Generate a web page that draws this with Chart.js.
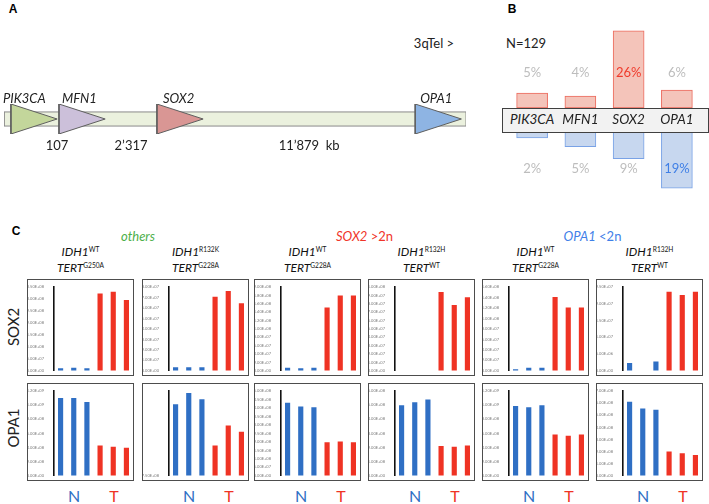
<!DOCTYPE html>
<html>
<head>
<meta charset="utf-8">
<script src="https://cdn.jsdelivr.net/npm/chart.js@4.4.1/dist/chart.umd.min.js"></script>
<style>
  body { margin: 0; background: #fff; font-family: Lato, "Open Sans", sans-serif; }
  #page { position: relative; width: 709px; height: 504px; overflow: hidden; }
  .t { position: absolute; white-space: nowrap; transform: translate(-50%, -50%); line-height: 1; }
  .box { position: absolute; border: 1px solid #4d4d4d; box-sizing: border-box; background: #fff; }
  sup { font-size: 0.55em; font-style: normal; vertical-align: 0.7em; }
</style>
</head>
<body>
<div id="page"></div>
<script>
// ---- panel A : schematic of 3q ----
const geneNames = ['PIK3CA', 'MFN1', 'SOX2', 'OPA1'];
const geneStart = [1.5, 11.9, 33.1, 89.0];     // schematic units, backbone 0..100
const geneLength = [10, 10, 10, 10];
const geneColors = ['#c3d69b', '#ccc0da', '#d99694', '#8eb4e3'];
const distanceLabels = ['107', '2\u2019317', '11\u2019879  kb'];

// ---- panel B : gains / losses, % of N=129 ----
const gainPct = [5, 4, 26, 6];
const lossPct = [2, 5, 9, 19];

// ---- panel C : qPCR per tumour ----
const sampleLabels = ['N1', 'N2', 'N3', 'T1', 'T2', 'T3'];
const groupTitles = ['others', 'SOX2 >2n', 'OPA1 <2n'];
const idh1Status = ['WT', 'R132K', 'WT', 'R132H', 'WT', 'R132H'];
const tertStatus = ['G250A', 'G228A', 'G228A', 'WT', 'G228A', 'WT'];

const sox2Values = [
  [8e6, 1.06e7, 8e6, 3.21e8, 3.29e8, 2.94e8],
  [3e6, 3e6, 3e6, 7.03e7, 7.58e7, 6.42e7],
  [6e6, 5e6, 6e6, 1.50e8, 1.79e8, 1.79e8],
  [null, null, null, 9.36e7, 7.81e7, 8.72e7],
  [2e6, 5e6, 5e6, 1.40e8, 1.20e8, 1.20e8],
  [2.2e6, null, 2.6e6, 2.35e7, 2.25e7, 2.35e7]
];
const sox2AxisMin = [0, 0, 0, 0, 0, 0];
const sox2AxisMax = [3.5e8, 8e7, 2e8, 1e8, 1.6e8, 2.5e7];
const sox2AxisStep = [5e7, 1e7, 2e7, 1e7, 2e7, 5e6];

const opa1Values = [
  [1.096e9, 1.096e9, 1.04e9, 4.24e8, 4.06e8, 3.92e8],
  [9.43e8, 9.74e8, 9.57e8, 8.31e8, 8.85e8, 8.68e8],
  [4.29e8, 4.06e8, 4.02e8, 1.95e8, 1.99e8, 1.95e8],
  [4.97e8, 5.17e8, 5.37e8, 2.08e8, 2.03e8, 2.12e8],
  [9.83e8, 9.65e8, 9.92e8, 5.77e8, 5.59e8, 5.77e8],
  [6.08e8, 5.53e8, 5.42e8, 1.97e8, 1.82e8, 1.68e8]
];
const opa1AxisMin = [0, 7.5e8, 0, 0, 0, 0];
const opa1AxisMax = [1.2e9, 9.8e8, 5e8, 6e8, 1.2e9, 7e8];
const opa1AxisStep = [2e8, 5e7, 5e7, 1e8, 2e8, 1e8];

const BLUE = '#2f6fc4';
const RED = '#ef3324';

Chart.defaults.font.family = 'Lato, "Open Sans", sans-serif';
Chart.defaults.animation = false;
Chart.defaults.plugins.legend.display = false;
Chart.defaults.plugins.tooltip.enabled = false;

const page = document.getElementById('page');

function text(html, x, y, style) {
  const d = document.createElement('div');
  d.className = 't';
  d.innerHTML = html;
  d.style.left = x + 'px';
  d.style.top = y + 'px';
  Object.assign(d.style, style || {});
  page.appendChild(d);
  return d;
}

function makeCanvas(parent, left, top, w, h) {
  const c = document.createElement('canvas');
  c.width = w; c.height = h;
  c.style.width = w + 'px'; c.style.height = h + 'px';
  c.style.position = 'absolute';
  c.style.left = left + 'px'; c.style.top = top + 'px';
  parent.appendChild(c);
  return c;
}

// Excel-like scientific labels: 3.50E+08
function sci(v) {
  if (v === 0) return '0.00E+00';
  const e = Math.floor(Math.log10(Math.abs(v)) + 1e-9);
  const m = v / Math.pow(10, e);
  return m.toFixed(2) + 'E' + (e < 0 ? '-' : '+') + String(Math.abs(e)).padStart(2, '0');
}

// ================= panel A =================
text('A', 13, 9, { fontWeight: 'bold', fontSize: '12px', fontFamily: 'Arial, sans-serif' });
text('3qTel &gt;', 434, 43, { fontSize: '13px', color: '#222' });

const aDatasets = geneNames.map((g, i) => ({
  data: [
    { x: geneStart[i], y: -1 },
    { x: geneStart[i] + geneLength[i], y: 0 },
    { x: geneStart[i], y: 1 },
    { x: geneStart[i], y: -1 }
  ],
  backgroundColor: geneColors[i],
  borderColor: '#5f5f5f',
  borderWidth: 1,
  fill: 'shape',
  pointRadius: 0,
  tension: 0
}));
aDatasets.push({
  data: [{ x: 0, y: -0.47 }, { x: 100, y: -0.47 }, { x: 100, y: 0.47 }, { x: 0, y: 0.47 }, { x: 0, y: -0.47 }],
  backgroundColor: '#ebf1de',
  borderColor: '#8a8a8a',
  borderWidth: 1,
  fill: 'shape',
  pointRadius: 0,
  tension: 0
});

const aChart = new Chart(makeCanvas(page, 0, 100, 470, 40), {
  type: 'line',
  data: { datasets: aDatasets },
  options: {
    responsive: false,
    layout: { padding: { left: 4, right: 4, top: 4, bottom: 6 } },
    scales: {
      x: { type: 'linear', min: 0, max: 100, display: false },
      y: { type: 'linear', min: -1, max: 1, display: false }
    }
  }
});

// labels of panel A placed through the chart's scale
{
  const xs = aChart.scales.x;
  const labelX = geneStart.map(s => xs.getPixelForValue(s));
  const nameOffsets = [-8, 3, 6, 5];
  geneNames.forEach((g, i) => {
    text('<i>' + g + '</i>', labelX[i] + nameOffsets[i], 98, { fontSize: '13px', color: '#222', transform: 'translate(0,-50%)' });
  });
  // distances sit between consecutive genes
  const mids = [xs.getPixelForValue(geneStart[1]) - 2,
                (xs.getPixelForValue(geneStart[1] + geneLength[1]) + xs.getPixelForValue(geneStart[2])) / 2,
                (xs.getPixelForValue(geneStart[2] + geneLength[2]) + xs.getPixelForValue(geneStart[3])) / 2];
  distanceLabels.forEach((t, i) => text(t.replace(/ /g, '&nbsp;'), mids[i], 145, { fontSize: '13px', color: '#222' }));
}

// ================= panel B =================
text('B', 512, 9, { fontWeight: 'bold', fontSize: '12px', fontFamily: 'Arial, sans-serif' });
text('N=129', 526, 43, { fontSize: '13px', color: '#222' });

const bUp = new Chart(makeCanvas(page, 502, 10, 206, 98), {
  type: 'bar',
  data: {
    labels: geneNames,
    datasets: [{
      data: gainPct,
      backgroundColor: '#f4c4ba',
      borderColor: '#ec6a5c',
      borderWidth: 1,
      borderSkipped: false,
      barThickness: 31
    }]
  },
  options: {
    responsive: false,
    layout: { padding: { left: 6, right: 7, top: 9, bottom: 0 } },
    scales: { x: { display: false }, y: { display: false, min: 0, max: 30 } }
  }
});

new Chart(makeCanvas(page, 502, 132, 206, 60), {
  type: 'bar',
  data: {
    labels: geneNames,
    datasets: [{
      data: lossPct,
      backgroundColor: '#c7d7ef',
      borderColor: '#79a2e6',
      borderWidth: 1,
      borderSkipped: false,
      barThickness: 31
    }]
  },
  options: {
    responsive: false,
    layout: { padding: { left: 6, right: 7, top: 0, bottom: 1 } },
    scales: { x: { display: false }, y: { display: false, min: 0, max: 20, reverse: true } }
  }
});

// gene label strip between gains and losses
{
  const strip = document.createElement('div');
  Object.assign(strip.style, {
    position: 'absolute', left: '502px', top: '108px', width: '207px', height: '25px',
    background: '#f2f2f2', border: '1px solid #404040', boxSizing: 'border-box'
  });
  page.appendChild(strip);
  const xs = bUp.scales.x;
  const maxUp = Math.max(...gainPct), maxDown = Math.max(...lossPct);
  geneNames.forEach((g, i) => {
    const cx = 502 + xs.getPixelForValue(i);
    text('<i>' + g + '</i>', cx, 120, { fontSize: '13.5px', color: '#222' });
    text(gainPct[i] + '%', cx, 72, { fontSize: '13px', color: gainPct[i] === maxUp ? '#ef3b2c' : '#bdbdbd' });
    text(lossPct[i] + '%', cx, 168, { fontSize: '13px', color: lossPct[i] === maxDown ? '#3f7fe6' : '#bdbdbd' });
  });
}

// ================= panel C =================
text('C', 16, 231, { fontWeight: 'bold', fontSize: '12px', fontFamily: 'Arial, sans-serif' });

const colLeft = [27, 142, 254, 368, 482, 596];
const boxW = 107;
const groupColors = ['#4db04a', '#f0352a', '#3f80e8'];
groupTitles.forEach((g, i) => {
  const cx = (colLeft[2 * i] + colLeft[2 * i + 1] + boxW) / 2;
  const parts = g.split(' ');
  const html = parts.length > 1 ? '<i>' + parts[0] + '</i> ' + parts.slice(1).join(' ') : '<i>' + g + '</i>';
  text(html, cx, 236, { fontSize: '13px', color: groupColors[i] });
});

colLeft.forEach((l, i) => {
  const cx = l + boxW / 2;
  text('<i>IDH1</i><sup>' + idh1Status[i] + '</sup>', cx, 252, { fontSize: '12px', color: '#111' });
  text('<i>TERT</i><sup>' + tertStatus[i] + '</sup>', cx, 268, { fontSize: '12px', color: '#111' });
});

text('SOX2', 13, 327, { fontSize: '15px', color: '#222', transform: 'translate(-50%,-50%) rotate(-90deg)' });
text('OPA1', 13, 428, { fontSize: '15px', color: '#222', transform: 'translate(-50%,-50%) rotate(-90deg)' });

function smallChart(left, top, h, values, min, max, step) {
  const box = document.createElement('div');
  box.className = 'box';
  Object.assign(box.style, { left: left + 'px', top: top + 'px', width: boxW + 'px', height: h + 'px' });
  page.appendChild(box);
  const c = makeCanvas(box, 0, 0, boxW - 2, h - 2);
  return new Chart(c, {
    type: 'bar',
    data: {
      labels: sampleLabels,
      datasets: [{
        data: values,
        backgroundColor: values.map((v, i) => i < 3 ? BLUE : RED),
        barThickness: 4.5
      }]
    },
    options: {
      responsive: false,
      layout: { padding: { left: 0, right: 0, top: 7, bottom: 0 } },
      scales: {
        x: { display: false },
        y: {
          min: min, max: max,
          grid: { display: false },
          border: { display: true, color: '#111', width: 1.6 },
          afterFit: s => { s.width = 26; },
          afterBuildTicks: s => {
            s.ticks = s.ticks.filter(t => Math.abs(t.value / step - Math.round(t.value / step)) < 1e-6);
          },
          ticks: {
            stepSize: step,
            padding: 2,
            color: '#7a7a7a',
            font: { size: 4 },
            callback: v => sci(v)
          }
        }
      }
    }
  });
}

colLeft.forEach((l, i) => {
  smallChart(l, 279, 97, sox2Values[i], sox2AxisMin[i], sox2AxisMax[i], sox2AxisStep[i]);
  smallChart(l, 383, 98, opa1Values[i], opa1AxisMin[i], opa1AxisMax[i], opa1AxisStep[i]);
  text('N', l + 47, 496, { fontSize: '16px', color: BLUE });
  text('T', l + 87, 496, { fontSize: '16px', color: RED });
});
</script>
</body>
</html>
